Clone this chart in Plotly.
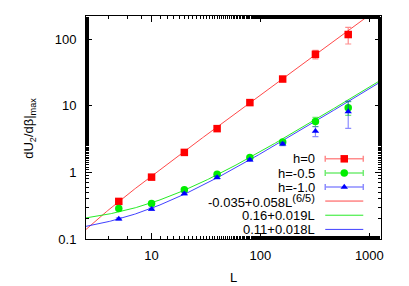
import numpy as np
import plotly.graph_objects as go

# ---- data ----
L_vals = [5, 10, 20, 40, 80, 160, 320, 640]
h0 = [0.367, 0.85, 2.0, 4.55, 11.2, 25.3, 59.5, 118]
h0_err = [0.02, 0.04, 0.08, 0.2, 0.5, 2.0, 8.5, 33]
h05 = [0.288, 0.342, 0.548, 0.94, 1.67, 2.87, 5.8, 9.4]
h05_err = [0.01, 0.01, 0.02, 0.04, 0.08, 0.15, 0.9, 2.2]
h10 = [0.200, 0.280, 0.480, 0.84, 1.55, 2.68, 4.16, 8.2]
h10_err = [0.008, 0.01, 0.02, 0.04, 0.07, 0.15, 0.7, 3.6]

x_ticks = [10, 100, 1000]
x_ticktext = ["10", "100", "1000"]
y_ticks = [0.1, 1, 10, 100]
y_ticktext = ["0.1", "1", "10", "100"]

legend_labels = ["h=0", "h=-0.5", "h=-1.0",
                 "-0.035+0.058L<sup><span style='font-size:11px'>(6/5)</span></sup>",
                 "0.16+0.019L", "0.11+0.018L"]

RED = "#ff0000"
GREEN = "#00ee00"
BLUE = "#0000ff"
RED_L = "rgba(255,0,0,0.45)"
GREEN_L = "rgba(0,220,0,0.55)"
BLUE_L = "rgba(0,0,255,0.45)"
FIT_COLS = ["rgba(255,40,40,0.85)", "rgba(0,230,0,0.85)", "rgba(30,30,255,0.85)"]

FONT = "Liberation Sans, Arial, sans-serif"

# fit curves
xf = np.logspace(np.log10(2.5), np.log10(1280), 300)
fit_red = -0.035 + 0.058 * xf ** 1.2
fit_green = 0.16 + 0.019 * xf
fit_blue = 0.11 + 0.018 * xf

fig = go.Figure()

for y, col in zip([fit_red, fit_green, fit_blue], FIT_COLS):
    fig.add_trace(go.Scatter(x=xf, y=y, mode="lines", line=dict(color=col, width=1),
                             showlegend=False, hoverinfo="skip"))

series = [
    (h0, h0_err, RED, RED_L, "square", 7.5),
    (h05, h05_err, GREEN, GREEN_L, "circle", 7.5),
    (h10, h10_err, BLUE, BLUE_L, "triangle-up", 6.5),
]
for ys, errs, col, lcol, sym, sz in series:
    fig.add_trace(go.Scatter(
        x=L_vals, y=ys, mode="markers",
        marker=dict(symbol=sym, size=sz, color=col, line=dict(width=0)),
        error_y=dict(type="data", array=errs, visible=True, color=lcol, thickness=1.2, width=3),
        showlegend=False))

# ---- page geometry (browser body has an 8px margin) ----
OFF = 8
W, H = 409 - OFF, 286 - OFF
plot_top, plot_bot = 16, 239.3          # absolute window pixels
plot_left, plot_right = 86, 380.7

def py(p):
    return (plot_bot - p) / (plot_bot - plot_top)
def px(p):
    return (p - plot_left) / (plot_right - plot_left)

# ---- custom gnuplot-style legend (overlay axes 0..1) ----
row_y_px = [159, 173.3, 187.3, 201.3, 215.5, 229.7]
x0, x1 = px(325), px(363)
xm = (x0 + x1) / 2
for i, (ys, errs, col, lcol, sym, sz) in enumerate(series):
    fig.add_trace(go.Scatter(
        x=[xm], y=[py(row_y_px[i])], xaxis="x2", yaxis="y2", mode="markers",
        marker=dict(symbol=sym, size=sz, color=col),
        error_x=dict(type="constant", value=(x1 - x0) / 2, color=lcol, thickness=1.5, width=3),
        showlegend=False, hoverinfo="skip"))
for i, col in enumerate(FIT_COLS):
    yy = py(row_y_px[3 + i])
    fig.add_trace(go.Scatter(x=[x0, x1], y=[yy, yy], xaxis="x2", yaxis="y2", mode="lines",
                             line=dict(color=col, width=1), showlegend=False, hoverinfo="skip"))

annotations = []
for i, lab in enumerate(legend_labels):
    annotations.append(dict(text=lab, xref="paper", yref="paper", x=px(317), y=py(row_y_px[i]),
                            xanchor="right", yanchor="middle", showarrow=False,
                            font=dict(family=FONT, size=13, color="black")))
annotations.append(dict(text="dU<sub>2</sub>/dβ|<sub>max</sub>", xref="paper", yref="paper",
                        x=px(30), y=py(128), textangle=-90, xanchor="center", yanchor="middle",
                        showarrow=False, font=dict(family=FONT, size=13, color="black")))
annotations.append(dict(text="L", xref="paper", yref="paper", x=0.5, y=py(268),
                        xanchor="center", yanchor="top", showarrow=False,
                        font=dict(family=FONT, size=13, color="black")))

axis_common = dict(showgrid=False, zeroline=False, showline=True, linecolor="black", linewidth=1,
                   mirror="ticks", ticks="inside", ticklen=6, tickcolor="black", tickwidth=1,
                   tickfont=dict(family=FONT, size=13, color="black"),
                   minor=dict(ticks="inside", ticklen=3, tickcolor="black", showgrid=False))

fig.update_layout(
    width=W, height=H,
    margin=dict(l=plot_left - OFF, r=W - (plot_right - OFF), t=plot_top - OFF,
                b=H - (plot_bot - OFF), pad=0),
    paper_bgcolor="white", plot_bgcolor="white",
    showlegend=False,
    xaxis=dict(type="log", range=[np.log10(2.5), np.log10(1280)], tickvals=x_ticks,
               ticktext=x_ticktext, ticklabelstandoff=4, **axis_common),
    yaxis=dict(type="log", range=[-1, np.log10(224)], tickvals=y_ticks,
               ticktext=y_ticktext, ticklabelstandoff=6, **axis_common),
    xaxis2=dict(overlaying="x", range=[0, 1], visible=False, showgrid=False),
    yaxis2=dict(overlaying="y", range=[0, 1], visible=False, showgrid=False),
    annotations=annotations,
)

fig.write_html("out.html")
